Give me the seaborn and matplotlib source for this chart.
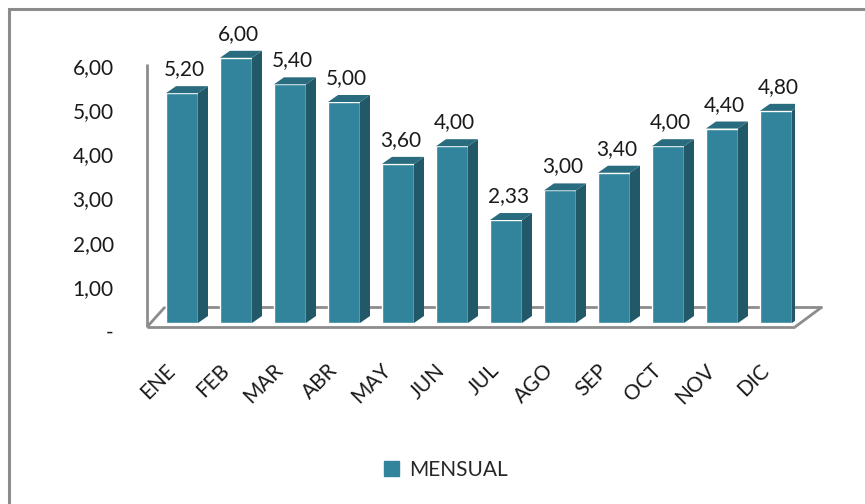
import numpy as np
import pandas as pd
import matplotlib
matplotlib.use('Agg')
import matplotlib.pyplot as plt
import matplotlib.transforms as mtransforms
from matplotlib.patches import Polygon, Rectangle
import seaborn as sns

# Data
months = ['ENE', 'FEB', 'MAR', 'ABR', 'MAY', 'JUN', 'JUL', 'AGO', 'SEP', 'OCT', 'NOV', 'DIC']
values = [5.20, 6.00, 5.40, 5.00, 3.60, 4.00, 2.33, 3.00, 3.40, 4.00, 4.40, 4.80]
y_ticks = [0, 1, 2, 3, 4, 5, 6]
series_name = 'MENSUAL'

df = pd.DataFrame({'mes': months, 'valor': values})

front_color = '#31849B'
side_color = '#215968'
top_color = '#2A6C7F'
floor_color = '#8C8C8C'

sns.set_style('white')
plt.rcParams['font.family'] = ['Lato', 'DejaVu Sans']

W, H = 865, 504
fig = plt.figure(figsize=(W / 100, H / 100), dpi=100)

# axes placed in pixels
ax_l, ax_r, ax_b, ax_t = 147, 795, 327, 30
ax = fig.add_axes([ax_l / W, 1 - ax_b / H, (ax_r - ax_l) / W, (ax_b - ax_t) / H])

px_per_cat = 54.0
px_per_unit = 44.2
xmin = -(182 - ax_l) / px_per_cat
xmax = 11 + (ax_r - 776) / px_per_cat
ylow = -(ax_b - 323) / px_per_unit
yhigh = (323 - ax_t) / px_per_unit

sns.barplot(data=df, x='mes', y='valor', color=front_color, saturation=1,
            width=32 / px_per_cat, ax=ax, zorder=3)
ax.set_xlim(xmin, xmax)
ax.set_ylim(ylow, yhigh)

# 3D look: side and top faces for every bar
dx = 10 / px_per_cat
dy = 7 / px_per_unit
for p in list(ax.patches):
    x0 = p.get_x()
    w = p.get_width()
    h = p.get_height()
    side = Polygon([(x0 + w, 0), (x0 + w + dx, dy), (x0 + w + dx, h + dy), (x0 + w, h)],
                   closed=True, facecolor=side_color, edgecolor='none', zorder=3)
    top = Polygon([(x0, h), (x0 + dx, h + dy), (x0 + w + dx, h + dy), (x0 + w, h)],
                  closed=True, facecolor=top_color, edgecolor='none', zorder=3)
    ax.add_patch(side)
    ax.add_patch(top)
    ax.annotate(f'{h:.2f}'.replace('.', ','), (x0 + w / 2, h), xytext=(2, 10),
                textcoords='offset points', ha='center', va='bottom', fontsize=15,
                color='#1a1a1a')

# floor and wall edges
fl_dy = 20 / px_per_unit
fl_dx_l = 18 / px_per_cat
fl_dx_r = 27 / px_per_cat
line_kw = dict(color=floor_color, lw=2.0, zorder=1, clip_on=False, solid_capstyle='butt')
ax.plot([xmin, xmax], [ylow, ylow], **line_kw)
ax.plot([xmin, xmin + fl_dx_l], [ylow, ylow + fl_dy], **line_kw)
ax.plot([xmax, xmax + fl_dx_r], [ylow, ylow + fl_dy], **line_kw)
ax.plot([xmin + fl_dx_l, xmax + fl_dx_r], [ylow + fl_dy, ylow + fl_dy], **line_kw)
ax.plot([xmin, xmin], [ylow, 5.85], **line_kw)

for s in ax.spines.values():
    s.set_visible(False)

ax.set_xlabel('')
ax.set_ylabel('')
ax.set_yticks(y_ticks)
ax.set_yticklabels(['-' if t == 0 else f'{t:.2f}'.replace('.', ',') for t in y_ticks],
                   fontsize=15, color='#1a1a1a')
ax.tick_params(axis='y', length=0, pad=24)
ax.tick_params(axis='x', length=0, pad=29)
plt.setp(ax.get_xticklabels(), rotation=45, ha='right', va='center',
         rotation_mode='anchor', fontsize=15, color='#1a1a1a')

# small offsets to mimic the 3D projection of the labels
off_y = mtransforms.ScaledTranslation(0, -8 / 100, fig.dpi_scale_trans)
for lbl in ax.get_yticklabels():
    lbl.set_transform(lbl.get_transform() + off_y)
off_x = mtransforms.ScaledTranslation(-10 / 100, 0, fig.dpi_scale_trans)
for lbl in ax.get_xticklabels():
    lbl.set_transform(lbl.get_transform() + off_x)

# legend
leg = fig.legend(handles=[Rectangle((0, 0), 1, 1, color=front_color)], labels=[series_name],
                 loc='center', bbox_to_anchor=(446 / W, 1 - 470 / H), frameon=False,
                 fontsize=15, handlelength=0.7, handleheight=0.7, handletextpad=0.5)

# chart area frame
fig.patches.append(Rectangle((9 / W, -0.1), 1.2, 1 - 9 / H + 0.1, transform=fig.transFigure,
                             facecolor='none', edgecolor=floor_color, lw=2.2))

fig.savefig('out.png', dpi=100)
